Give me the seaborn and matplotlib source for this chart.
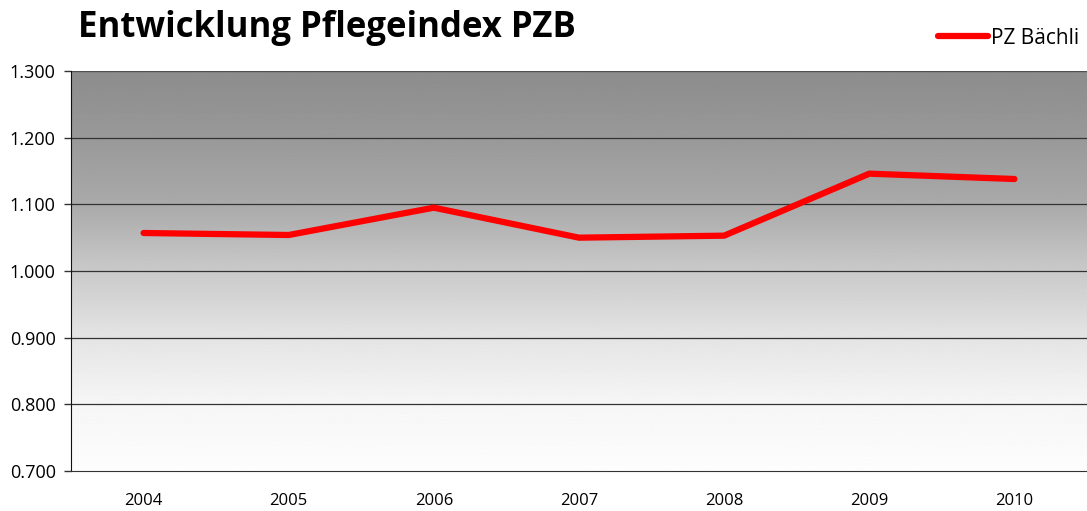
import numpy as np
import pandas as pd
import seaborn as sns
import matplotlib.pyplot as plt
from matplotlib.ticker import FixedLocator, FuncFormatter

years = ["2004", "2005", "2006", "2007", "2008", "2009", "2010"]
pflegeindex = [1.057, 1.054, 1.095, 1.050, 1.053, 1.146, 1.138]
y_ticks = [0.7, 0.8, 0.9, 1.0, 1.1, 1.2, 1.3]

sns.set_style("white")
plt.rcParams['font.family'] = ['Open Sans', 'DejaVu Sans']
plt.rcParams['text.color'] = 'black'
plt.rcParams['xtick.color'] = 'black'
plt.rcParams['ytick.color'] = 'black'

df = pd.DataFrame({"Jahr": years, "Index": pflegeindex})

fig = plt.figure(figsize=(10.87, 5.11), dpi=100)
ax = fig.add_axes([71 / 1087, 40 / 511, 1016 / 1087, 400 / 511])

# grey gradient background, dark at top, fading to white low down
gy = np.linspace(0.7, 1.3, 300)
shade = np.interp(gy, [0.7, 0.8, 0.9, 1.0, 1.1, 1.2, 1.3],
                  [0.99, 0.965, 0.895, 0.79, 0.665, 0.6, 0.55])
ax.imshow(shade.reshape(-1, 1), cmap="gray", vmin=0, vmax=1, aspect="auto",
          extent=[-0.5, 6.5, 0.7, 1.3], origin="lower", zorder=0)

for t in y_ticks[1:]:
    ax.axhline(t, color="#333333", lw=0.9, zorder=1)

sns.lineplot(data=df, x="Jahr", y="Index", color="#ff0000", lw=4.5,
             solid_capstyle="round", label="PZ Bächli", ax=ax, zorder=3)

ax.set_xlim(-0.5, 6.5)
ax.set_ylim(0.7, 1.3)
ax.set_yticks(y_ticks)
ax.yaxis.set_major_formatter(FuncFormatter(lambda v, p: f"{v:.3f}"))
ax.set_xticks(range(len(years)))
ax.set_xticklabels(years)
ax.xaxis.set_minor_locator(FixedLocator(np.arange(-0.5, 7, 1.0)))
ax.tick_params(axis="x", which="major", length=0, pad=16, labelsize=12)
ax.tick_params(axis="x", which="minor", length=6, width=1, color="#333333",
               direction="out")
ax.tick_params(axis="y", length=5, width=1, color="#333333", direction="out",
               labelsize=13, pad=6, left=True)
ax.set_xlabel("")
ax.set_ylabel("")

for s in ["top", "right"]:
    ax.spines[s].set_visible(False)
ax.spines["left"].set_color("#111111")
ax.spines["bottom"].set_color("#333333")
ax.axhline(1.3, color="#555555", lw=1.2, zorder=2)

fig.text(78 / 1087, 1 - 28 / 511, "Entwicklung Pflegeindex PZB",
         fontsize=25, fontweight="bold", va="center", ha="left")

leg = ax.legend(loc="lower right", bbox_to_anchor=(1.0, 1.035), frameon=False,
                fontsize=15, handlelength=2.4, handletextpad=0.1,
                borderaxespad=0)

fig.savefig("out.png", dpi=100)
